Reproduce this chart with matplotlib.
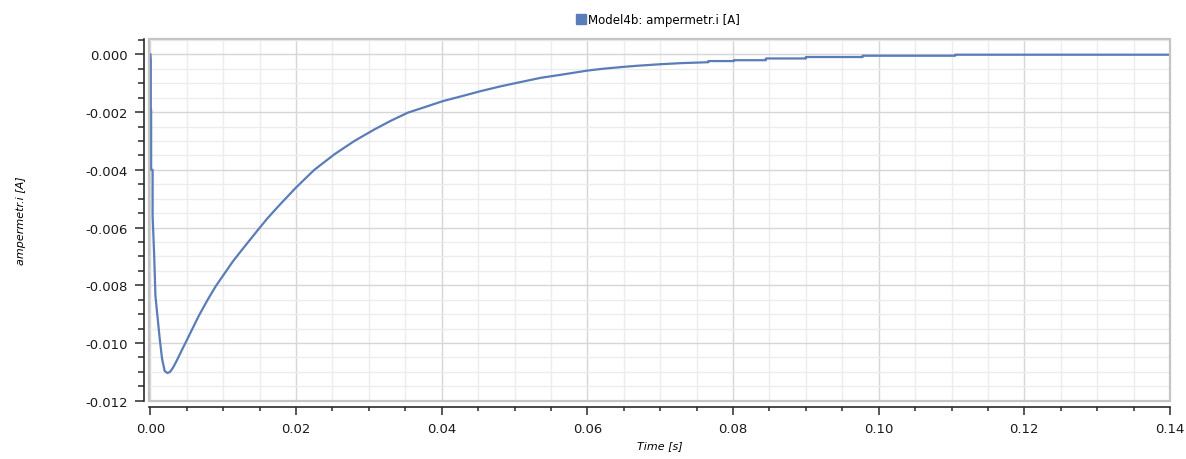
import matplotlib
matplotlib.use("Agg")
import matplotlib.pyplot as plt
from matplotlib.ticker import MultipleLocator, FormatStrFormatter
from matplotlib.lines import Line2D
from matplotlib.patches import Rectangle

# values (time in s, current in A)
time_s = [0.0, 0.00005, 0.00005, 0.0001, 0.0001, 0.0003, 0.0003, 0.00051, 0.00069,
          0.00096, 0.00128, 0.00160, 0.00196, 0.00233, 0.0027, 0.00311, 0.0036,
          0.00425, 0.0050, 0.00562, 0.0067, 0.00791, 0.0090, 0.01015, 0.0113,
          0.01248, 0.01477, 0.0160, 0.0175, 0.0200, 0.0225, 0.02527, 0.0280,
          0.03075, 0.0330, 0.03533, 0.0375, 0.04013, 0.0430, 0.04538, 0.0480,
          0.05041, 0.05361, 0.0570, 0.0600, 0.0620, 0.0650, 0.0670, 0.0700, 0.0730,
          0.0766, 0.0766, 0.0801, 0.0801, 0.0845, 0.0845, 0.0900, 0.0900,
          0.0978, 0.0978, 0.1105, 0.1105, 0.1400]
current_a = [0.0, -0.0002, -0.0019, -0.0019, -0.0040, -0.0040, -0.0056, -0.00692, -0.00837,
             -0.00906, -0.00986, -0.01055, -0.01097, -0.01104, -0.01100, -0.01085, -0.01062,
             -0.01028, -0.00990, -0.00958, -0.00903, -0.00848, -0.00802, -0.00760, -0.00718,
             -0.00680, -0.00608, -0.00570, -0.00528, -0.00461, -0.00400, -0.00346, -0.00300,
             -0.00260, -0.00230, -0.00202, -0.00184, -0.00162, -0.00143, -0.00127, -0.00111,
             -0.00098, -0.00081, -0.00068, -0.00056, -0.00050, -0.00043, -0.00039, -0.00034, -0.00030,
             -0.00027, -0.00023, -0.00023, -0.00020, -0.00020, -0.00014, -0.00014, -0.00009,
             -0.00009, -0.000045, -0.000045, -0.00001, -0.00001]

series_label = "Model4b: ampermetr.i [A]"
x_label = "Time [s]"
y_label = "ampermetr.i [A]"

line_color = "#5a7cb8"
axis_color = "#2a2a2a"

fig = plt.figure(figsize=(11.86, 4.6), dpi=100)
ax = fig.add_axes([0.1256, 0.1267, 0.8609, 0.7873])

ax.plot(time_s, current_a, color=line_color, lw=1.6, zorder=3)

ax.set_xlim(-0.0002, 0.14)
ax.set_ylim(-0.012, 0.00055)

ax.xaxis.set_major_locator(MultipleLocator(0.02))
ax.xaxis.set_minor_locator(MultipleLocator(0.005))
ax.yaxis.set_major_locator(MultipleLocator(0.002))
ax.yaxis.set_minor_locator(MultipleLocator(0.0005))
ax.xaxis.set_major_formatter(FormatStrFormatter("%.2f"))
ax.yaxis.set_major_formatter(FormatStrFormatter("%.3f"))

ax.grid(which="major", color="#d6d6d6", lw=1.0, zorder=0)
ax.grid(which="minor", color="#ececec", lw=1.0, zorder=0)
ax.set_axisbelow(True)

# qwt style: detached axis lines, light frame around the canvas
for s in ("top", "right"):
    ax.spines[s].set_visible(False)
ax.spines["left"].set_position(("outward", 3.6))
ax.spines["bottom"].set_position(("outward", 4.5))
for s in ("left", "bottom"):
    ax.spines[s].set_color(axis_color)
    ax.spines[s].set_linewidth(1.2)
ax.add_patch(Rectangle((0, 0), 1, 1, transform=ax.transAxes, fill=False,
                       edgecolor="#c4c4c4", lw=1.6, clip_on=False, zorder=4))

ax.tick_params(axis="y", which="major", length=6.5, width=1.1, color=axis_color,
               labelsize=9.5, labelcolor="#1a1a1a", pad=5)
ax.tick_params(axis="y", which="minor", length=4.3, width=1.1, color=axis_color)
ax.tick_params(axis="x", which="major", length=5.5, width=1.1, color=axis_color,
               labelsize=9.5, labelcolor="#1a1a1a", pad=5)
ax.tick_params(axis="x", which="minor", length=3.0, width=1.1, color=axis_color)

ax.set_xlabel(x_label, fontsize=8, style="italic", labelpad=4)
fig.text(0.018, 0.52, y_label, rotation=90, fontsize=8, style="italic",
         ha="center", va="center")

handle = Line2D([], [], marker="s", color="none", markerfacecolor=line_color,
                markeredgecolor=line_color, markersize=6.5)
fig.legend([handle], [series_label], loc="center", bbox_to_anchor=(0.555, 0.955),
           frameon=False, fontsize=8.5, handlelength=0.6, handletextpad=0.3)

fig.savefig("out.png", dpi=100)
